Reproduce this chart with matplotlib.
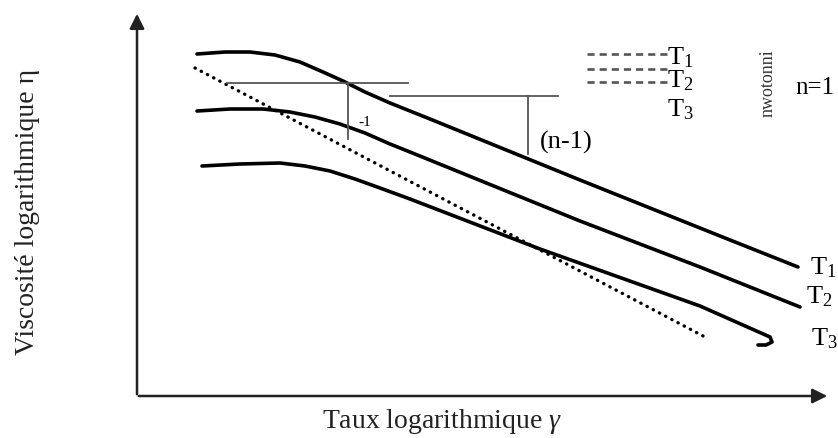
import matplotlib.pyplot as plt

plt.rcParams["font.family"] = ["Liberation Serif", "DejaVu Serif"]
plt.rcParams["mathtext.fontset"] = "custom"
plt.rcParams["mathtext.rm"] = "Liberation Serif"
plt.rcParams["mathtext.it"] = "Liberation Serif:italic"

# curve points (x to the right, y downward)
t1_x = [197, 225, 250, 275, 300, 323, 343, 365, 390, 430, 580, 720, 798]
t1_y = [55, 53, 53, 56, 63, 73, 82, 93, 104, 120, 181, 237, 268]
t2_x = [197, 230, 263, 290, 315, 340, 365, 390, 410, 580, 700, 800]
t2_y = [112, 110, 110, 113, 118, 125, 134, 145, 153, 222, 268, 308]
t3_x = [202, 240, 280, 305, 330, 355, 380, 410, 540, 700, 770, 772, 766, 758]
t3_y = [167, 165, 164, 167, 172, 180, 189, 200, 250, 307, 338, 343, 346, 346]
newton_x = [195, 705]
newton_y = [69, 338]

# slope construction lines
h1_x, h1_y = [227, 408], [84, 84]
v1_x, v1_y = [348, 348], [84, 140]
h2_x, h2_y = [390, 558], [97, 97]
v2_x, v2_y = [528, 528], [97, 155]

curve_labels = ["T$_1$", "T$_2$", "T$_3$"]
legend_rows_y = [55, 70, 83]

fig = plt.figure(figsize=(8.38, 4.39), dpi=100)
ax = fig.add_axes([0, 0, 1, 1])
ax.set_xlim(0, 838)
ax.set_ylim(439, 0)
ax.axis("off")

# axes with arrows
arrow = dict(arrowstyle="-|>", lw=1.8, color="#222", mutation_scale=22)
ax.annotate("", xy=(137, 12), xytext=(137, 398), arrowprops=arrow)
ax.annotate("", xy=(830, 397), xytext=(136, 397), arrowprops=arrow)

for xs, ys in [(t1_x, t1_y), (t2_x, t2_y), (t3_x, t3_y)]:
    ax.plot(xs, ys, color="black", lw=2.6, solid_capstyle="round",
            solid_joinstyle="round")

ax.plot(newton_x, newton_y, color="black", lw=2.4,
        linestyle=(0, (0.1, 2.0)), dash_capstyle="round")

for xs, ys in [(h1_x, h1_y), (v1_x, v1_y), (h2_x, h2_y), (v2_x, v2_y)]:
    ax.plot(xs, ys, color="#555", lw=1.3)

ax.text(358, 123, "-1", fontsize=11, va="center")
ax.text(540, 142, "(n-1)", fontsize=19, va="center")

# curve end labels
ax.text(810, 268, curve_labels[0], fontsize=19, va="center")
ax.text(806, 297, curve_labels[1], fontsize=19, va="center")
ax.text(811, 339, curve_labels[2], fontsize=19, va="center")

# legend-like block
for yy in legend_rows_y:
    ax.plot([587, 668], [yy, yy], color="#555", lw=1.9,
            linestyle=(0, (2.7, 1.9)))
ax.text(667, 58, curve_labels[0], fontsize=19, va="center")
ax.text(667, 81, curve_labels[1], fontsize=19, va="center")
ax.text(667, 110, curve_labels[2], fontsize=19, va="center")

ax.text(768, 83, "nwotonni", fontsize=13, rotation=90, ha="center",
        va="center", color="#333")
ax.text(795, 88, "n=1", fontsize=18, va="center")

ax.text(442, 422, "Taux logarithmique $\\gamma$", fontsize=20, ha="center",
        va="center", color="#222")
ax.text(27, 212, "Viscosité logarithmique η", fontsize=20, rotation=90,
        ha="center", va="center", color="#222")

fig.savefig("out.png", dpi=100)
